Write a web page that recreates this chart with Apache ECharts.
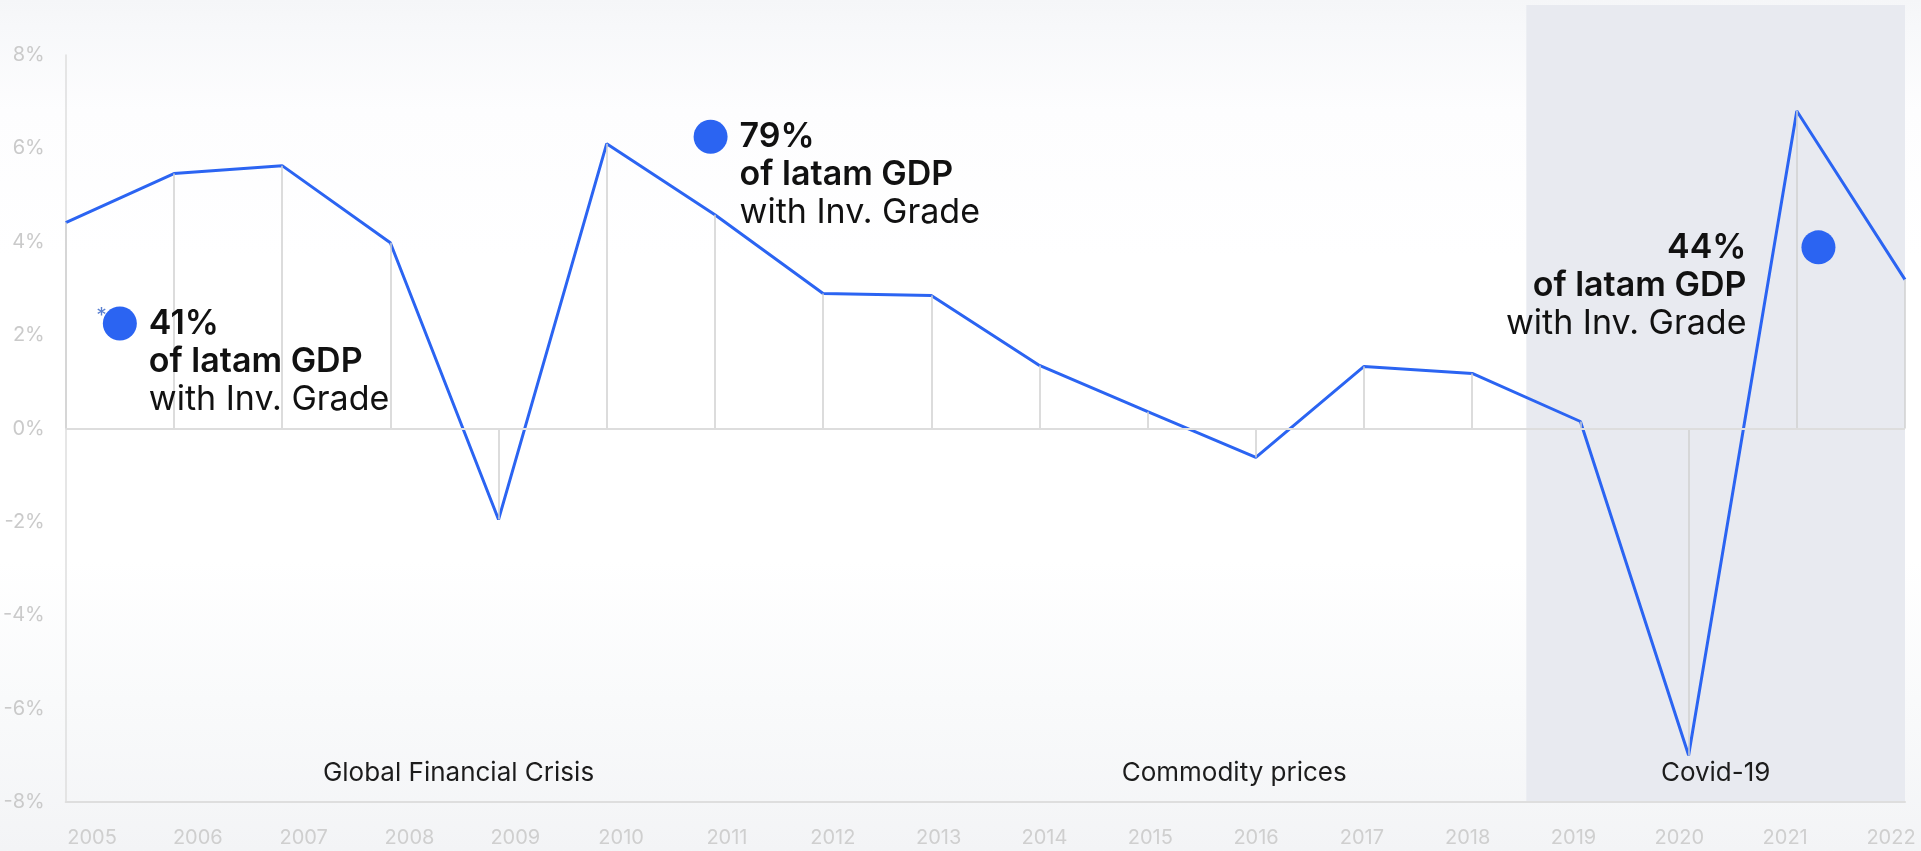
<!DOCTYPE html>
<html>
<head>
<meta charset="utf-8">
<script src="https://cdn.jsdelivr.net/npm/echarts@6/dist/echarts.min.js"></script>
<style>
  html, body { margin: 0; padding: 0; }
  body {
    width: 1921px; height: 851px; overflow: hidden;
    background: linear-gradient(180deg, #f5f6f8 0px, #f7f8fa 26px, #fdfdfe 110px, #ffffff 260px, #ffffff 560px, #f9fafb 700px, #f3f4f6 851px);
  }
  #chart { width: 1921px; height: 851px; }
</style>
</head>
<body>
<div id="chart"></div>
<script>
// ---- data ----
const years = ['2005','2006','2007','2008','2009','2010','2011','2012','2013','2014','2015','2016','2017','2018','2019','2020','2021','2022'];
const growth = [4.41, 5.46, 5.63, 3.98, -1.95, 6.10, 4.58, 2.89, 2.85, 1.35, 0.36, -0.62, 1.33, 1.18, 0.15, -7.00, 6.80, 3.19];

const annotX = [2005.5, 2010.96, 2021.2];
const annotY = [2.25, 6.25, 3.88];
const annotPct = ['41%', '79%', '44%'];
const annotSide = ['right', 'right', 'left'];
const annotLine2 = 'of latam GDP';
const annotLine3 = 'with Inv. Grade';
const footnoteMark = '*';

const regionNames = ['Global Financial Crisis', 'Commodity prices', 'Covid-19'];
const regionStart = [2007.5, 2013.6, 2018.5];
const regionEnd = [2009.76, 2018.0, 2022];
const regionShaded = [false, false, true];

// ---- build ----
const yearNums = years.map(Number);
const lineData = yearNums.map((y, i) => [y, growth[i]]);
const dropLines = yearNums.map((y, i) => [{ coord: [y, 0] }, { coord: [y, growth[i]] }]);

const BLUE = '#2b64f2';
const FONT = 'Inter, "Noto Sans", sans-serif';

const regionAreas = regionNames.map((n, i) => [
  { name: n, xAxis: regionStart[i], yAxis: -8, itemStyle: { color: 'rgba(0,0,0,0)' } },
  { xAxis: regionEnd[i], yAxis: 0 }
]);

const annotData = annotX.map((x, i) => ({
  value: [x, annotY[i]],
  label: {
    position: annotSide[i],
    distance: annotSide[i] === 'left' ? 55 : 12,
    align: annotSide[i] === 'left' ? 'right' : 'left',
    formatter: '{b|' + annotPct[i] + '}\n{b|' + annotLine2 + '}\n{r|' + annotLine3 + '}'
  }
}));

const chart = echarts.init(document.getElementById('chart'), null, { renderer: 'canvas' });
chart.setOption({
  backgroundColor: 'transparent',
  animation: false,
  grid: [
    { left: 64, right: 16, top: 55, bottom: 49 },
    { left: 92, right: 30, top: 55, bottom: 49 }
  ],
  xAxis: [
    {
      type: 'value', gridIndex: 0, min: 2005, max: 2022,
      axisLine: { show: true, onZero: false, lineStyle: { color: '#dedede', width: 2 } },
      axisTick: { show: false }, axisLabel: { show: false }, splitLine: { show: false }
    },
    {
      type: 'category', gridIndex: 1, data: years, boundaryGap: false,
      axisLine: { show: false }, axisTick: { show: false }, splitLine: { show: false },
      axisLabel: { color: '#cfcfcf', fontSize: 20, fontFamily: FONT, margin: 26, interval: 0 }
    }
  ],
  yAxis: [
    {
      type: 'value', gridIndex: 0, min: -8, max: 8, interval: 2,
      axisLine: { show: true, lineStyle: { color: '#dedede', width: 1.5 } },
      axisTick: { show: false }, splitLine: { show: false },
      axisLabel: { color: '#cacaca', fontSize: 20, fontFamily: FONT, margin: 21, formatter: '{value}%' }
    },
    { type: 'value', gridIndex: 1, min: 0, max: 1, show: false }
  ],
  series: [
    {
      name: 'regions', type: 'line', xAxisIndex: 0, yAxisIndex: 0, data: [], z: 1,
      silent: true,
      markArea: {
        silent: true,
        label: {
          show: true, position: 'insideBottom', distance: 16,
          color: '#1c1c1c', fontSize: 26, fontFamily: FONT
        },
        data: regionAreas
      }
    },
    {
      name: 'drops', type: 'line', xAxisIndex: 0, yAxisIndex: 0, data: [], z: 2, silent: true,
      markLine: {
        silent: true, symbol: ['none', 'none'], animation: false,
        label: { show: false },
        lineStyle: { color: '#d0d0d0', width: 1.5, type: 'solid' },
        data: dropLines.concat([{ yAxis: 0, lineStyle: { color: '#dddddd', width: 2 } }])
      }
    },
    {
      name: 'GDP growth', type: 'line', xAxisIndex: 0, yAxisIndex: 0,
      data: lineData, symbol: 'none', z: 3,
      lineStyle: { color: BLUE, width: 3 }
    },
    {
      name: 'footnote', type: 'scatter', xAxisIndex: 0, yAxisIndex: 0, z: 4,
      data: [[annotX[0], annotY[0]]], symbol: 'circle', symbolSize: 34,
      itemStyle: { color: 'rgba(0,0,0,0)' },
      label: {
        show: true, position: 'left', distance: -4, offset: [0, -7],
        formatter: footnoteMark, color: '#2f5fc4', fontSize: 21, fontFamily: FONT
      }
    },
    {
      name: 'annotations', type: 'scatter', xAxisIndex: 0, yAxisIndex: 0, z: 5,
      data: annotData, symbol: 'circle', symbolSize: 34,
      itemStyle: { color: BLUE, opacity: 1 },
      label: {
        show: true, offset: [0, 38], color: '#111',
        rich: {
          b: { fontSize: 34, fontWeight: 600, lineHeight: 38, color: '#111', fontFamily: FONT },
          r: { fontSize: 34, fontWeight: 400, lineHeight: 38, color: '#111', fontFamily: FONT }
        }
      }
    }
  ]
});

// shaded period band: x positions from the chart's own scale, extending above the plot to the top edge
function drawBands() {
  const els = [];
  regionNames.forEach((n, i) => {
    if (!regionShaded[i]) return;
    const pA = chart.convertToPixel({ gridIndex: 0 }, [regionStart[i], -8]);
    const pB = chart.convertToPixel({ gridIndex: 0 }, [regionEnd[i], 8]);
    const top = 5;
    els.push({
      type: 'rect', z: 0, silent: true,
      shape: { x: pA[0], y: top, width: pB[0] - pA[0], height: pA[1] - top },
      style: { fill: '#e8eaf0' }
    });
  });
  chart.setOption({ graphic: els });
}
drawBands();
</script>
</body>
</html>
